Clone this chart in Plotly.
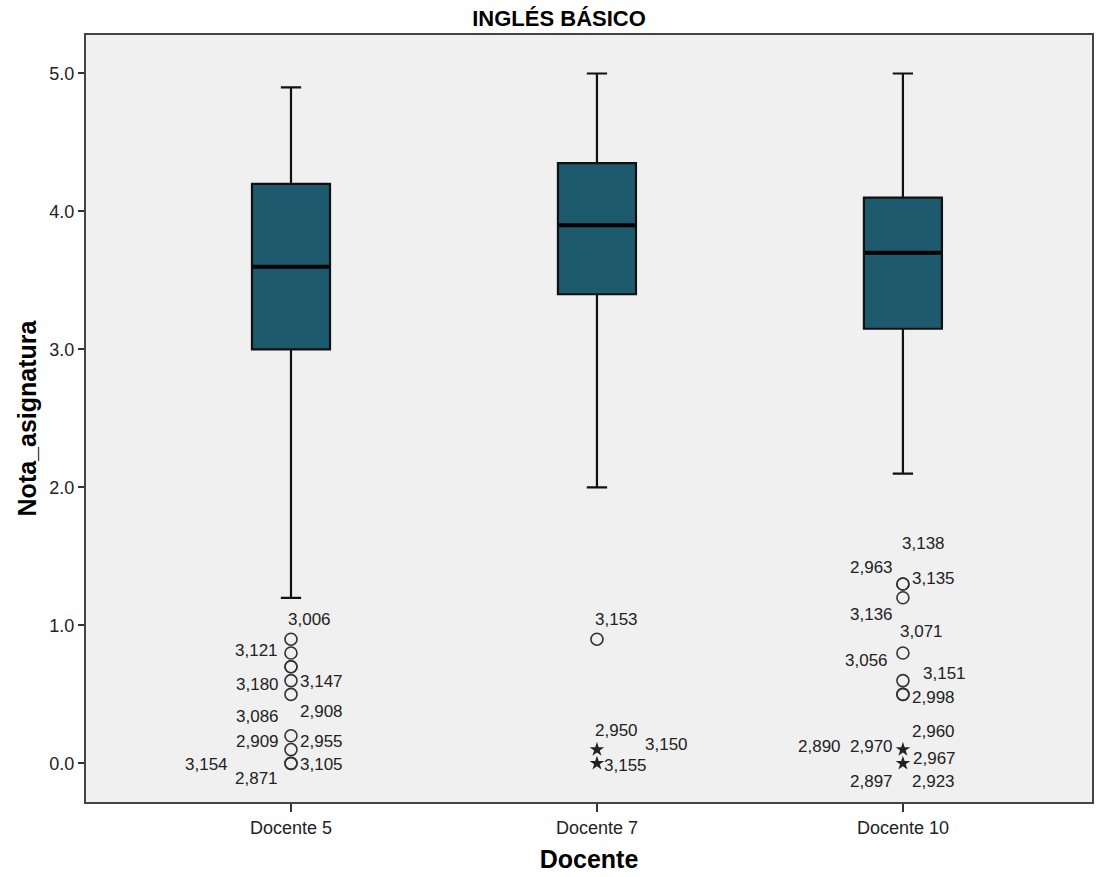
import plotly.graph_objects as go

# Summary statistics per teacher
docentes = ["Docente 5", "Docente 7", "Docente 10"]
whisker_low = [1.2, 2.0, 2.1]
q1 = [3.0, 3.4, 3.15]
median = [3.6, 3.9, 3.7]
q3 = [4.2, 4.35, 4.1]
whisker_high = [4.9, 5.0, 5.0]

# Outliers (circles) and extreme values (stars), per teacher
outliers = [
    [0.9, 0.8, 0.7, 0.7, 0.6, 0.5, 0.2, 0.1, 0.0, 0.0],
    [0.9],
    [1.3, 1.3, 1.2, 0.8, 0.6, 0.5, 0.5],
]
extremes = [
    [],
    [0.1, 0.0],
    [0.1, 0.0],
]

# Case labels: teacher index, anchor value, case id
case_docente = [0] * 11 + [1] * 4 + [2] * 14
case_value = [
    0.9, 0.8, 0.6, 0.6, 0.5, 0.5, 0.2, 0.2, 0.0, 0.0, 0.0,
    0.9, 0.1, 0.1, 0.0,
    1.3, 1.3, 1.3, 1.2, 0.8, 0.8, 0.6, 0.5, 0.1, 0.1, 0.1, 0.0, 0.0, 0.0,
]
case_id = [
    "3,006", "3,121", "3,180", "3,147", "3,086", "2,908", "2,909", "2,955", "3,154", "3,105", "2,871",
    "3,153", "2,950", "3,150", "3,155",
    "3,138", "2,963", "3,135", "3,136", "3,071", "3,056", "3,151", "2,998", "2,960", "2,890", "2,970",
    "2,967", "2,897", "2,923",
]
# pixel offsets of each label from its point (right, up)
label_dx = [19, -34, -33, 31, -33, 31, -33, 31, -84, 31, -34,
            20, 20, 70, 29,
            21, -31, 31, -31, 19, -36, 42, 31, 31, -83, -31, 32, -31, 31]
label_dy = [20, 2, -4, -1, -22, -17, -6, -6, -1, -1, -15,
            20, 19, 5, -2,
            41, 17, 6, -17, 21, -8, 7, -3, 18, 3, 3, 5, -18, -18]

BOX_COLOR = "#1d5a6e"
FONT = "Liberation Sans, Arial, sans-serif"
BOX_W = 0.255

fig = go.Figure()

for i, name in enumerate(docentes):
    fig.add_trace(go.Box(
        x=[i], q1=[q1[i]], median=[median[i]], q3=[q3[i]],
        lowerfence=[whisker_low[i]], upperfence=[whisker_high[i]],
        width=BOX_W, whiskerwidth=0.26,
        fillcolor=BOX_COLOR, line=dict(color="#111111", width=2.2),
        boxpoints=False, showlegend=False, hoverinfo="skip",
    ))
    # thick median bar
    fig.add_trace(go.Scatter(
        x=[i - BOX_W / 2 + 0.004, i + BOX_W / 2 - 0.004], y=[median[i], median[i]],
        mode="lines", line=dict(color="black", width=4),
        showlegend=False, hoverinfo="skip",
    ))
    if outliers[i]:
        fig.add_trace(go.Scatter(
            x=[i] * len(outliers[i]), y=outliers[i], mode="markers",
            marker=dict(symbol="circle-open", size=12, color="#333333",
                        line=dict(width=1.6, color="#333333")),
            showlegend=False, hoverinfo="skip",
        ))
    if extremes[i]:
        fig.add_trace(go.Scatter(
            x=[i] * len(extremes[i]), y=extremes[i], mode="markers",
            marker=dict(symbol="star", size=11, color="#222222",
                        line=dict(width=0)),
            showlegend=False, hoverinfo="skip",
        ))

for d, v, t, dx, dy in zip(case_docente, case_value, case_id, label_dx, label_dy):
    fig.add_annotation(
        x=d, y=v, text=t, showarrow=False, xshift=dx, yshift=dy,
        font=dict(family=FONT, size=17, color="#222222"),
    )

fig.update_layout(
    width=1107, height=877,
    margin=dict(l=86, r=15, t=35, b=75),
    paper_bgcolor="white", plot_bgcolor="#f0f0f0",
    title=dict(text="<b>INGLÉS BÁSICO</b>", x=0.505, xanchor="center",
               y=0.979, yanchor="middle",
               font=dict(family=FONT, size=22, color="black")),
    xaxis=dict(
        range=[-0.670, 2.618], tickvals=[0, 1, 2], ticktext=docentes,
        ticks="outside", ticklen=8, tickwidth=2, tickcolor="#333333",
        showgrid=False, zeroline=False, automargin=False,
        showline=True, linecolor="#444444", linewidth=2, mirror=True,
        tickfont=dict(family=FONT, size=18, color="#222222"),
        title=dict(text="<b>Docente</b>", standoff=14,
                   font=dict(family=FONT, size=25, color="black")),
    ),
    yaxis=dict(
        range=[-0.280, 5.279], tickvals=[0, 1, 2, 3, 4, 5], tickformat=".1f",
        ticks="outside", ticklen=6, tickwidth=2, tickcolor="#333333",
        showgrid=False, zeroline=False, automargin=False,
        showline=True, linecolor="#444444", linewidth=2, mirror=True,
        tickfont=dict(family=FONT, size=18, color="#222222"),
        title=dict(text="<b>Nota_asignatura</b>", standoff=6,
                   font=dict(family=FONT, size=25, color="black")),
    ),
)

fig.write_html("out.html")
